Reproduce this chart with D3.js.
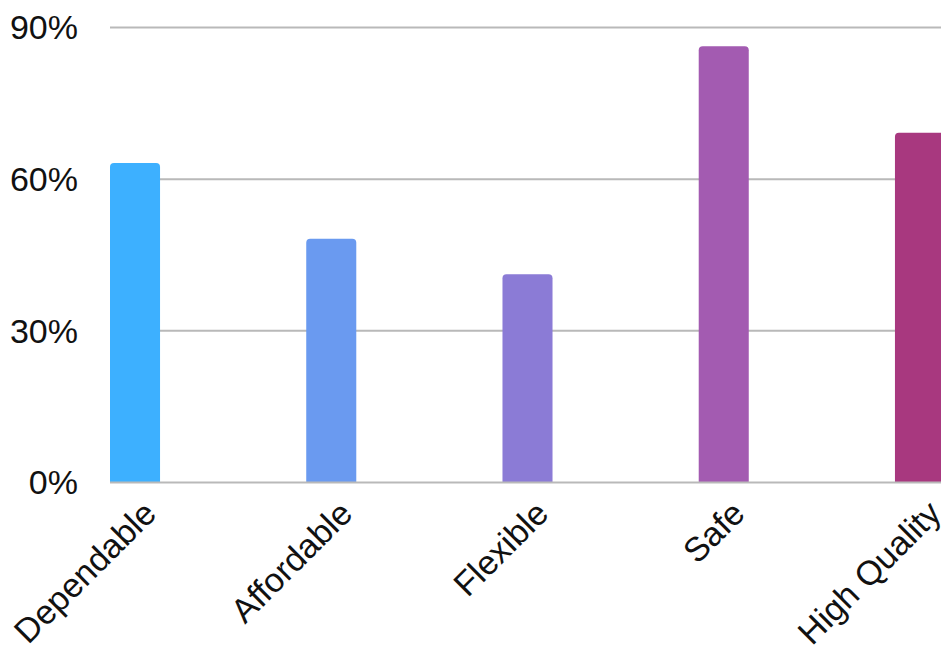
<!DOCTYPE html>
<html>
<head>
<meta charset="utf-8">
<script src="https://cdn.jsdelivr.net/npm/d3@7"></script>
<style>
  html, body { margin: 0; padding: 0; background: #fff; }
  svg { display: block; }
  text { font-family: "Liberation Sans", Arial, sans-serif; }
</style>
</head>
<body>
<svg id="chart" width="941" height="647"></svg>
<script>
const categories = ["Dependable", "Affordable", "Flexible", "Safe", "High Quality"];
const values = [63.2, 48.2, 41.2, 86.3, 69.2];
const colors = ["#3DB0FF", "#6A9AF0", "#8B7BD6", "#A35BB1", "#A8387F"];
const yTicks = [0, 30, 60, 90];

const W = 941, H = 647;
const svg = d3.select("#chart");

const y = d3.scaleLinear().domain([0, 90]).range([482.5, 27.5]);
const x = d3.scaleBand().domain(categories).range([110, 945])
  .paddingInner(0.745).paddingOuter(0).align(0);

// gridlines
svg.append("g").selectAll("line").data(yTicks.filter(d => d > 0)).join("line")
  .attr("x1", 110).attr("x2", W)
  .attr("y1", d => y(d)).attr("y2", d => y(d))
  .attr("stroke", "#b9b9b9").attr("stroke-width", 2);

// y labels
svg.append("g").selectAll("text").data(yTicks).join("text")
  .attr("x", 78).attr("y", d => y(d)).attr("dy", "0.35em")
  .attr("text-anchor", "end").attr("font-size", 34).attr("fill", "#111")
  .text(d => d + "%");

// bars with rounded top corners
function barPath(x0, w, yTop, yBot, r) {
  r = Math.min(r, w / 2, yBot - yTop);
  return `M${x0},${yBot}V${yTop + r}Q${x0},${yTop} ${x0 + r},${yTop}` +
         `H${x0 + w - r}Q${x0 + w},${yTop} ${x0 + w},${yTop + r}V${yBot}Z`;
}
svg.append("g").selectAll("path").data(categories).join("path")
  .attr("d", (c, i) => barPath(x(c), x.bandwidth(), y(values[i]), y(0), 4))
  .attr("fill", (c, i) => colors[i]);

// baseline
svg.append("line").attr("x1", 110).attr("x2", W)
  .attr("y1", y(0)).attr("y2", y(0))
  .attr("stroke", "#b9b9b9").attr("stroke-width", 2);

// x labels
svg.append("g").selectAll("text").data(categories).join("text")
  .attr("transform", c => `translate(${x(c) + x.bandwidth() / 2 + 23},${y(0) + 33}) rotate(-45)`)
  .attr("text-anchor", "end").attr("font-size", 34).attr("fill", "#111")
  .text(c => c);
</script>
</body>
</html>
